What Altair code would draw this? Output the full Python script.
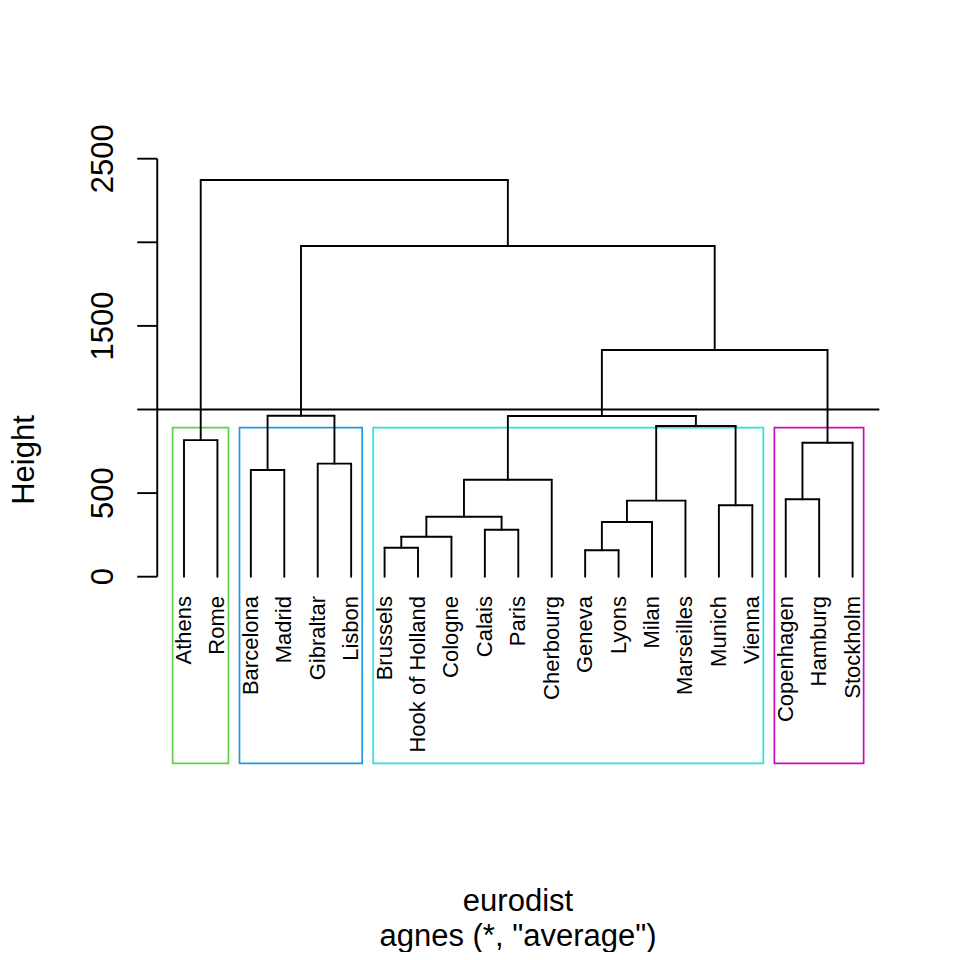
import altair as alt
import pandas as pd

# ---------------- data ----------------
leaves = ["Athens", "Rome", "Barcelona", "Madrid", "Gibraltar", "Lisbon",
          "Brussels", "Hook of Holland", "Cologne", "Calais", "Paris", "Cherbourg",
          "Geneva", "Lyons", "Milan", "Marseilles", "Munich", "Vienna",
          "Copenhagen", "Hamburg", "Stockholm"]

# R-style merge table: negative = leaf (1-based position in `leaves`), positive = earlier merge step
merge_left = [-13, -7, 2, -10, 1, 3, -17, 5, -19, 6, -3, -5, 9, -1, 8, 10, 11, 16, 17, 14]
merge_right = [-14, -8, -9, -11, -15, 4, -18, -16, -20, -12, -4, -6, -21, -2, 7, 15, 12, 13, 18, 19]
merge_height = [158, 173, 239, 281, 327, 359, 427, 455, 463, 580, 638, 676, 801, 817,
                901, 961, 963, 1356, 1978, 2373]

cut_height = 1000
cluster_sizes = [2, 4, 12, 3]
cluster_names = ["c1", "c2", "c3", "c4"]
box_colors = ["#61D04F", "#2297E6", "#28E2E5", "#CD0BBC"]
box_top = 892
box_bottom = -1116

tick_values = [0, 500, 1000, 1500, 2000, 2500]
tick_labels = ["0", "500", "1500", "2500"]
label_values = [0, 500, 1500, 2500]

title_lines = ["eurodist", 'agnes (*, "average")']
ylab = "Height"

FONT = "Liberation Sans, Arial, Helvetica, sans-serif"
LW = 1.9

# ---------------- layout constants (pixels) ----------------
W = H = 944
px_leaf = 33.43          # px per leaf
leaf1_px = 184 - 8       # x of first leaf in plot coords
px_unit = 0.1672         # px per height unit
zero_px = 576.7 - 8      # y of height 0 in plot coords

xd0 = 1 - leaf1_px / px_leaf
xd1 = xd0 + W / px_leaf
yd_top = zero_px / px_unit
yd_bot = yd_top - H / px_unit

n = len(leaves)
x_lo = 1 - 0.04 * (n - 1)
x_hi = n + 0.04 * (n - 1)
tick_x0 = x_lo - 20 / px_leaf

xs = alt.Scale(domain=[xd0, xd1], nice=False, zero=False)
ys = alt.Scale(domain=[yd_bot, yd_top], nice=False, zero=False)

# ---------------- dendrogram segments ----------------
node_x, node_h = {}, {}


def pos(c):
    if c < 0:
        return float(-c), 0.0
    return node_x[c], node_h[c]


segs = []
for i, (l, r, h) in enumerate(zip(merge_left, merge_right, merge_height), start=1):
    xl, hl = pos(l)
    xr, hr = pos(r)
    segs.append(dict(x=xl, x2=xr, y=h, y2=h))
    segs.append(dict(x=xl, x2=xl, y=hl, y2=h))
    segs.append(dict(x=xr, x2=xr, y=hr, y2=h))
    node_x[i] = (xl + xr) / 2
    node_h[i] = h
seg_df = pd.DataFrame(segs)

dendro = alt.Chart(seg_df).mark_rule(color="black", strokeWidth=LW, strokeCap="round").encode(
    x=alt.X("x:Q", scale=xs, axis=None), x2="x2:Q",
    y=alt.Y("y:Q", scale=ys, axis=None), y2="y2:Q")

# ---------------- cluster boxes ----------------
m = [0]
for s in cluster_sizes:
    m.append(m[-1] + s)
box_df = pd.DataFrame({
    "cl": cluster_names,
    "x": [m[k] + 0.66 for k in range(len(cluster_sizes))],
    "x2": [m[k + 1] + 0.33 for k in range(len(cluster_sizes))],
    "y": [box_bottom] * len(cluster_sizes),
    "y2": [box_top] * len(cluster_sizes),
})
boxes = alt.Chart(box_df).mark_rect(fillOpacity=0, strokeWidth=1.7).encode(
    x=alt.X("x:Q", scale=xs, axis=None), x2="x2:Q",
    y=alt.Y("y:Q", scale=ys, axis=None), y2="y2:Q",
    stroke=alt.Stroke("cl:N", scale=alt.Scale(domain=cluster_names, range=box_colors), legend=None))

# ---------------- cut line ----------------
cut_df = pd.DataFrame({"x": [x_lo], "x2": [x_hi], "y": [cut_height]})
cut = alt.Chart(cut_df).mark_rule(color="black", strokeWidth=LW).encode(
    x=alt.X("x:Q", scale=xs, axis=None), x2="x2:Q",
    y=alt.Y("y:Q", scale=ys, axis=None))

# ---------------- leaf labels ----------------
leaf_df = pd.DataFrame({"name": leaves, "x": list(range(1, n + 1))})
leaf_text = alt.Chart(leaf_df).mark_text(
    angle=270, align="right", baseline="middle", fontSize=22, font=FONT, color="black"
).encode(x=alt.X("x:Q", scale=xs, axis=None), y=alt.value(596 - 8), text="name:N")

# ---------------- y axis ----------------
axis_df = pd.DataFrame({"x": [x_lo], "y": [tick_values[0]], "y2": [tick_values[-1]]})
axis_line = alt.Chart(axis_df).mark_rule(color="black", strokeWidth=LW).encode(
    x=alt.X("x:Q", scale=xs, axis=None),
    y=alt.Y("y:Q", scale=ys, axis=None), y2="y2:Q")

ticks_df = pd.DataFrame({"x": [tick_x0] * len(tick_values), "x2": [x_lo] * len(tick_values),
                         "y": tick_values})
ticks = alt.Chart(ticks_df).mark_rule(color="black", strokeWidth=LW).encode(
    x=alt.X("x:Q", scale=xs, axis=None), x2="x2:Q",
    y=alt.Y("y:Q", scale=ys, axis=None))

tl_df = pd.DataFrame({"y": label_values, "t": tick_labels})
tick_text = alt.Chart(tl_df).mark_text(
    angle=270, align="center", baseline="alphabetic", fontSize=31, font=FONT, color="black"
).encode(x=alt.value(113 - 8), y=alt.Y("y:Q", scale=ys, axis=None), text="t:N")

ylab_text = alt.Chart(pd.DataFrame({"t": [ylab]})).mark_text(
    angle=270, align="center", baseline="alphabetic", fontSize=31, font=FONT, color="black"
).encode(x=alt.value(34 - 8), y=alt.value(460 - 8), text="t:N")

title1 = alt.Chart(pd.DataFrame({"t": [title_lines[0]]})).mark_text(
    align="center", baseline="alphabetic", fontSize=31, font=FONT, color="black"
).encode(x=alt.value(518 - 8), y=alt.value(911 - 8), text="t:N")
title2 = alt.Chart(pd.DataFrame({"t": [title_lines[1]]})).mark_text(
    align="center", baseline="alphabetic", fontSize=31, font=FONT, color="black"
).encode(x=alt.value(518 - 8), y=alt.value(946 - 8), text="t:N")

chart = alt.layer(
    boxes, dendro, cut, axis_line, ticks, leaf_text, tick_text, ylab_text, title1, title2
).properties(
    width=W, height=H, padding=0,
    autosize=alt.AutoSizeParams(type="none"),
    background="white",
).configure_view(stroke=None)

chart.save("out.html", embed_options={"renderer": "svg", "actions": False})
